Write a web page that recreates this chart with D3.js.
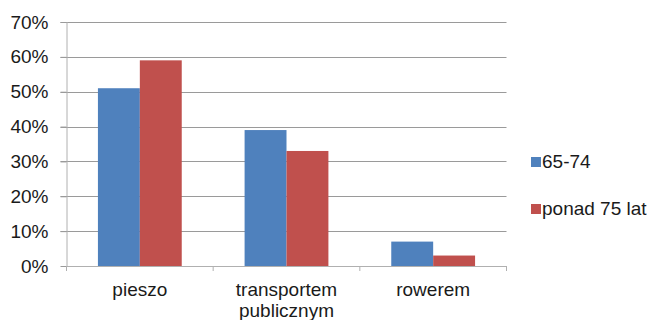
<!DOCTYPE html>
<html>
<head>
<meta charset="utf-8">
<script src="https://cdn.jsdelivr.net/npm/d3@7"></script>
<style>
  html, body { margin: 0; padding: 0; background: #fff; }
  svg { display: block; font-family: "Liberation Sans", Arial, sans-serif; }
</style>
</head>
<body>
<svg id="chart" width="651" height="320"></svg>
<script>
// Sposób przemieszczania się wg grupy wiekowej (udział w %)
const categories = [["pieszo"], ["transportem", "publicznym"], ["rowerem"]];
const seriesNames = ["65-74", "ponad 75 lat"];
const values6574 = [51, 39, 7];
const valuesOver75 = [59, 33, 3];
const yTicks = [0, 10, 20, 30, 40, 50, 60, 70];
const colors = ["#4f81bd", "#c0504d"];

const svg = d3.select("#chart");
const plot = { left: 66.5, right: 506.5, top: 22, bottom: 266 };
const fontSize = "19px";

const catKeys = categories.map(c => c.join(" "));
const x = d3.scaleBand().domain(catKeys).range([plot.left, plot.right]).paddingInner(0).paddingOuter(0);
const y = d3.scaleLinear().domain([0, 70]).range([plot.bottom, plot.top]);

// gap between groups = 150% of one bar width
const barW = x.bandwidth() / (2 + 1.5);
const inner = d3.scaleBand().domain(seriesNames).range([0, barW * 2]);

// horizontal gridlines with small outer ticks on the left
svg.append("g")
  .selectAll("line")
  .data(yTicks.filter(t => t > 0))
  .join("line")
  .attr("x1", plot.left - 6).attr("x2", plot.right)
  .attr("y1", d => Math.round(y(d)) + 0.5).attr("y2", d => Math.round(y(d)) + 0.5)
  .attr("stroke", "#9a9a9a").attr("stroke-width", 1);

// bars
const table = catKeys.map((k, i) => ({ key: k, vals: [values6574[i], valuesOver75[i]] }));
svg.append("g")
  .selectAll("g")
  .data(table)
  .join("g")
  .attr("transform", d => `translate(${x(d.key) + (x.bandwidth() - barW * 2) / 2},0)`)
  .selectAll("rect")
  .data(d => d.vals.map((v, j) => ({ name: seriesNames[j], v, j })))
  .join("rect")
  .attr("x", d => inner(d.name))
  .attr("width", inner.bandwidth())
  .attr("y", d => y(d.v))
  .attr("height", d => y(0) - y(d.v))
  .attr("fill", d => colors[d.j]);

// y axis
const yAxis = d3.axisLeft(y).tickValues(yTicks).tickFormat(d => d + "%").tickSize(6).tickPadding(12);
const gy = svg.append("g").attr("transform", `translate(${plot.left},0)`).call(yAxis);
gy.select(".domain").attr("stroke", "#b0b0b0").attr("d", `M0.5,${plot.top}V${plot.bottom}`);
gy.selectAll(".tick line").attr("stroke", "#9a9a9a");
gy.selectAll(".tick text")
  .attr("fill", "#1a1a1a")
  .style("font-size", fontSize)
  .style("font-family", "'Liberation Sans', Arial, sans-serif");

// x axis
const xAxis = d3.axisBottom(x).tickSize(0).tickFormat("");
const gx = svg.append("g").attr("transform", `translate(0,${plot.bottom})`).call(xAxis);
gx.select(".domain").attr("stroke", "#b0b0b0").attr("d", `M${plot.left},0.5H${plot.right}`);
// category separator ticks
gx.selectAll(".sep")
  .data(d3.range(catKeys.length + 1))
  .join("line")
  .attr("class", "sep")
  .attr("x1", i => (i === catKeys.length ? plot.right : x(catKeys[i])) )
  .attr("x2", i => (i === catKeys.length ? plot.right : x(catKeys[i])) )
  .attr("y1", 0).attr("y2", 5)
  .attr("stroke", "#b0b0b0");

// category labels
const lbl = svg.append("g").selectAll("text")
  .data(categories)
  .join("text")
  .attr("x", (d, i) => x(catKeys[i]) + x.bandwidth() / 2)
  .attr("y", 296)
  .attr("text-anchor", "middle")
  .attr("fill", "#1a1a1a")
  .style("font-size", fontSize);
lbl.selectAll("tspan")
  .data(d => d)
  .join("tspan")
  .attr("x", function() { return d3.select(this.parentNode).attr("x"); })
  .attr("dy", (d, i) => i === 0 ? 0 : 21)
  .text(d => d);

// legend
const legend = svg.append("g").selectAll("g")
  .data(seriesNames)
  .join("g")
  .attr("transform", (d, i) => `translate(531,${157 + i * 47})`);
legend.append("rect")
  .attr("width", 10).attr("height", 10)
  .attr("fill", (d, i) => colors[i]);
legend.append("text")
  .attr("x", 11).attr("y", 11)
  .attr("fill", "#1a1a1a")
  .style("font-size", fontSize)
  .text(d => d);
</script>
</body>
</html>
